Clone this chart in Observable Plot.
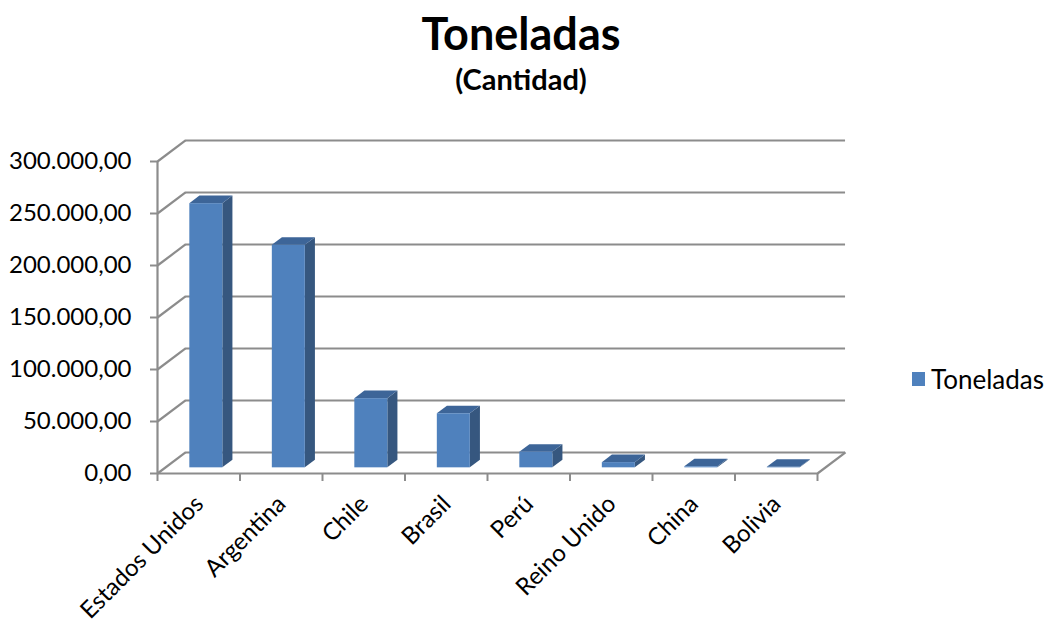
<!DOCTYPE html>
<html>
<head>
<meta charset="utf-8">
<script src="https://cdn.jsdelivr.net/npm/d3@7"></script>
<script src="https://cdn.jsdelivr.net/npm/@observablehq/plot@0.6"></script>
<style>
  body { margin: 0; background: #fff; font-family: Lato, "Open Sans", sans-serif; }
  #wrap { position: relative; width: 1046px; height: 623px; overflow: hidden; }
  #chart { position: absolute; left: 0; top: 0; }
  .title { position: absolute; left: 0; width: 1042px; text-align: center; font-weight: bold; color: #000; }
  #t1 { top: 6px; font-size: 45px; }
  #t2 { top: 61px; font-size: 29px; }
  #legend { position: absolute; left: 912px; top: 363px; display: flex; align-items: center; font-size: 26px; color: #000; }
  #legend .sw { width: 13px; height: 14px; background: #4F81BD; margin-right: 6px; }
</style>
</head>
<body>
<div id="wrap">
  <div id="chart"></div>
  <div class="title" id="t1">Toneladas</div>
  <div class="title" id="t2">(Cantidad)</div>
  <div id="legend"><div class="sw"></div><span>Toneladas</span></div>
</div>
<script>
// ---- data ----
const categories = ["Estados Unidos", "Argentina", "Chile", "Brasil", "Perú", "Reino Unido", "China", "Bolivia"];
const toneladas = [254000, 214000, 66500, 52000, 15000, 5000, 1000, 500];
const yTicks = [0, 50000, 100000, 150000, 200000, 250000, 300000];
const seriesName = "Toneladas";

// ---- layout / 3D look ----
const W = 1046, H = 623;
const depthX = 0.34;     // floor depth along x (in band units)
const depthY = 20200;    // floor depth along y (in value units)
const barFront = 0.27, barBack = 0.63; // bar position in depth (fraction)
const barHalf = 0.2;     // half bar width (band units)
const grid = "#8c8c8c";
const cFront = "#4F81BD", cSide = "#36577F", cTop = "#3D6598";

const loc = d3.formatLocale({decimal: ",", thousands: ".", grouping: [3], currency: ["", ""]});
const fmt = loc.format(",.2f");

const bars = categories.map((c, i) => ({cat: c, i, v: toneladas[i]}));
const sideFace = bars.flatMap(b => [barFront, barBack].map(f => ({
  cat: b.cat, x: b.i + 0.5 + barHalf + f * depthX, y1: f * depthY, y2: b.v + f * depthY })));
const topFace = bars.flatMap(b => [barFront, barBack].map(f => ({
  cat: b.cat, y: b.v + f * depthY, x1: b.i + 0.5 - barHalf + f * depthX, x2: b.i + 0.5 + barHalf + f * depthX })));
const diag = yTicks.map(v => ({x1: 0, y1: v, x2: depthX, y2: v + depthY}));

const chart = Plot.plot({
  width: W, height: H,
  marginLeft: 157, marginRight: 229, marginTop: 161, marginBottom: 150,
  style: {fontFamily: "Lato, 'Open Sans', sans-serif", fontSize: "24px", color: "#000", background: "transparent"},
  x: {domain: [0, categories.length], axis: null},
  y: {domain: [0, 300000], axis: null},
  marks: [
    // back wall gridlines
    Plot.ruleY(yTicks, {x1: depthX, x2: categories.length + depthX, y: d => d + depthY, stroke: grid, strokeWidth: 2.2}),
    // left wall diagonals
    Plot.link(diag, {x1: "x1", y1: "y1", x2: "x2", y2: "y2", stroke: grid, strokeWidth: 2.2}),
    // floor right edge
    Plot.link([0], {x1: categories.length, y1: 0, x2: categories.length + depthX, y2: depthY, stroke: grid, strokeWidth: 2.2}),
    // floor front edge
    Plot.ruleY([0], {x1: 0, x2: categories.length, stroke: grid, strokeWidth: 2.2}),
    // front vertical axis
    Plot.ruleX([0], {y1: 0, y2: 300000, stroke: grid, strokeWidth: 2.2}),
    // y axis ticks & labels
    Plot.axisY(yTicks, {anchor: "left", tickSize: 7, tickPadding: 19, tickFormat: fmt, stroke: grid, strokeWidth: 2, fill: "#000", fontSize: 24}),
    // category ticks
    Plot.axisX(d3.range(categories.length + 1), {anchor: "bottom", tickSize: 8, tickFormat: () => "", stroke: grid, strokeWidth: 2}),
    // category labels
    Plot.text(categories, {x: (d, i) => i + 0.5, frameAnchor: "bottom", text: d => d, rotate: -45, textAnchor: "end", dx: 6, dy: 32, fill: "#000", fontSize: 24}),
    // bars: side, top, front
    Plot.areaY(sideFace, {x: "x", y1: "y1", y2: "y2", z: "cat", fill: cSide}),
    Plot.areaX(topFace, {y: "y", x1: "x1", x2: "x2", z: "cat", fill: cTop}),
    Plot.rectY(bars, {x1: d => d.i + 0.5 - barHalf + barFront * depthX, x2: d => d.i + 0.5 + barHalf + barFront * depthX,
                      y1: barFront * depthY, y2: d => d.v + barFront * depthY, fill: cFront, title: d => `${d.cat}: ${fmt(d.v)}`})
  ]
});
document.getElementById("chart").appendChild(chart);
document.querySelector("#legend span").textContent = seriesName;
</script>
</body>
</html>
